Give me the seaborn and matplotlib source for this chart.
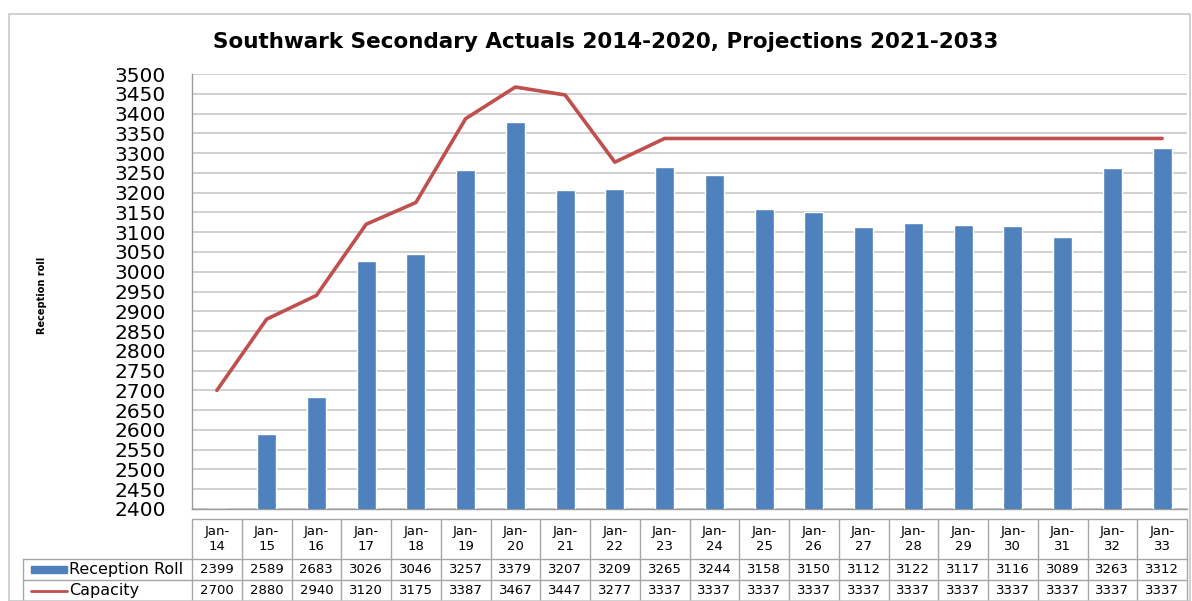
import numpy as np
import pandas as pd
import matplotlib
matplotlib.use('Agg')
import matplotlib.pyplot as plt
from matplotlib.patches import Rectangle
import seaborn as sns

years = ['14', '15', '16', '17', '18', '19', '20', '21', '22', '23',
         '24', '25', '26', '27', '28', '29', '30', '31', '32', '33']
reception_roll = [2399, 2589, 2683, 3026, 3046, 3257, 3379, 3207, 3209, 3265,
                  3244, 3158, 3150, 3112, 3122, 3117, 3116, 3089, 3263, 3312]
capacity = [2700, 2880, 2940, 3120, 3175, 3387, 3467, 3447, 3277, 3337,
            3337, 3337, 3337, 3337, 3337, 3337, 3337, 3337, 3337, 3337]
y_ticks = list(range(2400, 3501, 50))

BAR_C = '#4f81bd'
LINE_C = '#c0504d'
GRID_C = '#c4c4c4'
TAB_C = '#a6a6a6'

sns.set_style('white')
plt.rcParams['font.family'] = ['DejaVu Sans']
plt.rcParams['text.color'] = 'black'
plt.rcParams['ytick.color'] = 'black'

W, H = 1192, 601
fig = plt.figure(figsize=(W / 100, H / 100), dpi=100)

# outer chart frame
fig.add_artist(Rectangle((9 / W, 0), (1190 - 9) / W, (H - 14) / H,
                         transform=fig.transFigure, fill=False,
                         edgecolor='#c8c8c8', linewidth=1.2))

left, right, top, bottom = 192, 1187, 74, 509
ax = fig.add_axes([left / W, (H - bottom) / H, (right - left) / W, (bottom - top) / H])

df = pd.DataFrame({'year': years, 'roll': reception_roll})
sns.barplot(data=df, x='year', y='roll', color=BAR_C, width=0.38,
            saturation=1, ax=ax, zorder=3)
sns.lineplot(x=np.arange(len(years)), y=capacity, color=LINE_C,
             linewidth=2.6, ax=ax, zorder=4)

ax.set_xlim(-0.5, len(years) - 0.5)
ax.set_ylim(2400, 3500)
ax.set_yticks(y_ticks)
ax.set_yticklabels([str(t) for t in y_ticks], fontsize=14.5, color='black')
ax.tick_params(axis='y', length=0, pad=19)
ax.set_xticks([])
ax.set_xlabel('')
ax.set_ylabel('')
ax.yaxis.grid(True, color=GRID_C, linewidth=1.1, zorder=0)
ax.set_axisbelow(True)
for s in ['top', 'right']:
    ax.spines[s].set_visible(False)
for s in ['left', 'bottom']:
    ax.spines[s].set_color('#9a9a9a')
    ax.spines[s].set_linewidth(1)

fig.text(606 / W, 1 - 42 / H,
         'Southwark Secondary Actuals 2014-2020, Projections 2021-2033',
         ha='center', va='center', fontsize=15.5, fontweight='bold')
fig.text(42 / W, 1 - 295 / H, 'Reception roll', rotation=90,
         ha='center', va='center', fontsize=7, fontweight='bold')

# data table below the plot
tab_left, tab_top = 23, 519
cell_w = (right - left) / len(years)
tax = fig.add_axes([tab_left / W, 0, (right - tab_left) / W, (H - tab_top) / H])
x0 = -0.5 - (left - tab_left) / cell_w
tax.set_xlim(x0, len(years) - 0.5)
tax.set_ylim(H - tab_top, 0)
tax.axis('off')

rows = [0, 40, 61, 82]
n = len(years)
tax.plot([-0.5, n - 0.5], [rows[0], rows[0]], color=TAB_C, lw=1, clip_on=False)
tax.plot([x0, n - 0.5], [rows[1], rows[1]], color=TAB_C, lw=1, clip_on=False)
tax.plot([x0, n - 0.5], [rows[2], rows[2]], color=TAB_C, lw=1, clip_on=False)
tax.plot([x0, x0], [rows[1], rows[3]], color=TAB_C, lw=1, clip_on=False)
for i in range(n + 1):
    tax.plot([i - 0.5, i - 0.5], [rows[0], rows[3]], color=TAB_C, lw=1, clip_on=False)

for i, yv in enumerate(years):
    tax.text(i, 20, 'Jan-\n' + yv, ha='center', va='center', fontsize=9.5,
             linespacing=1.15)
    tax.text(i, 50.5, str(reception_roll[i]), ha='center', va='center', fontsize=9.5)
    tax.text(i, 71.5, str(capacity[i]), ha='center', va='center', fontsize=9.5)

# legend keys in the row labels
kx = x0 + 0.17
kw = 36 / cell_w
tax.add_patch(Rectangle((kx, 47), kw, 7, color=BAR_C, clip_on=False))
tax.plot([kx, kx + kw], [71.5, 71.5], color=LINE_C, lw=2, clip_on=False)
tax.text(kx + kw + 0.03, 50.5, 'Reception Roll', ha='left', va='center', fontsize=11.5)
tax.text(kx + kw + 0.03, 71.5, 'Capacity', ha='left', va='center', fontsize=11.5)

fig.savefig('out.png', dpi=100)
